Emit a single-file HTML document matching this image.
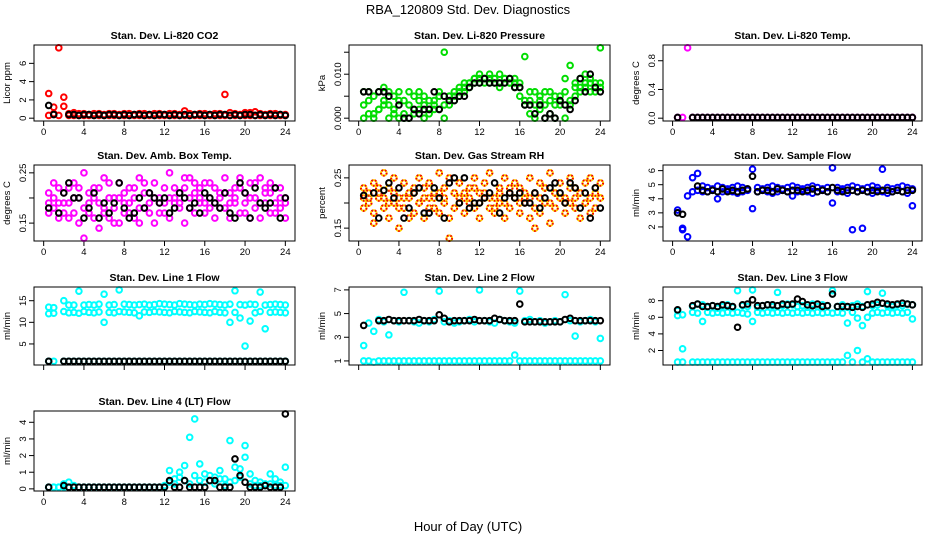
<!DOCTYPE html>
<html><head><meta charset="utf-8"><style>
body{margin:0;background:#fff;}
svg{display:block;font-family:"Liberation Sans",Arial,sans-serif;}
</style></head><body>
<svg id="chart" width="936" height="540" viewBox="0 0 936 540">
<text x="468" y="14" font-size="13" text-anchor="middle">RBA_120809  Std. Dev. Diagnostics</text>
<text x="468" y="531" font-size="13" text-anchor="middle">Hour of Day (UTC)</text>
</svg>
<script>
const hours=[0.5,1,1.5,2,2.5,3,3.5,4,4.5,5,5.5,6,6.5,7,7.5,8,8.5,9,9.5,10,10.5,11,11.5,12,12.5,13,13.5,14,14.5,15,15.5,16,16.5,17,17.5,18,18.5,19,19.5,20,20.5,21,21.5,22,22.5,23,23.5,24];
const xTicks=[0,4,8,12,16,20,24];
// CO2
const co2Red1=[2.7,0.5,7.7,2.3,0.5,0.6,0.5,0.5,0.4,0.5,0.5,0.4,0.5,0.5,0.4,0.5,0.5,0.4,0.5,0.5,0.4,0.5,0.5,0.4,0.5,0.5,0.4,0.8,0.5,0.4,0.5,0.5,0.4,0.5,0.5,2.6,0.6,0.5,0.4,0.6,0.6,0.7,0.5,0.4,0.5,0.5,0.4,0.4];
const co2Red2=[0.3,1.2,0.3,1.3,0.3,0.3,0.3,0.3,0.3,0.3,0.3,0.3,0.3,0.3,0.3,0.3,0.3,0.3,0.3,0.3,0.3,0.3,0.3,0.3,0.3,0.3,0.3,0.3,0.3,0.3,0.3,0.3,0.3,0.3,0.3,0.3,0.3,0.3,0.3,0.3,0.3,0.3,0.3,0.3,0.3,0.3,0.3,0.3];
const co2Black=[1.4,0.4,null,null,0.4,0.4,0.3,0.4,0.4,0.3,0.4,0.3,0.4,0.4,0.3,0.4,0.3,0.4,0.4,0.3,0.4,0.3,0.4,0.4,0.3,0.4,0.3,0.4,0.3,0.4,0.4,0.3,0.4,0.3,0.4,0.4,0.3,0.4,0.3,0.4,0.4,0.3,0.4,0.3,0.4,0.3,0.4,0.3];
// Pressure
const presG1=[0.006,0.006,0.001,0.006,0.007,0.006,0.005,0.006,0.004,0.006,0.005,0.006,0.003,0.004,0.002,0.006,0.015,0.005,0.006,0.007,0.008,0.008,0.009,0.010,0.009,0.010,0.009,0.010,0.009,0.009,0.008,0.007,0.014,0.006,0.006,0.005,0.006,0.006,0.005,0.005,0.009,0.012,0.008,0.009,0.010,0.009,0.008,0.016];
const presG2=[0,0.001,0,0.002,0.003,0,0.001,0,0,0,0.001,0.002,0,0.001,0.003,0.002,0,0.003,0.004,0.005,0.006,0.007,0.008,0.008,0.008,0.009,0.008,0.007,0.008,0.008,0.007,0.005,0.003,0.001,0,0.002,0,0.001,0,0.003,0,0.003,0.005,0.006,0.007,0.006,0.006,0.007];
const presG3=[0.003,0.004,0.005,0.002,0.004,0.003,0.002,0.004,0.001,0.003,0.002,0.004,0.005,0.002,0.004,0.005,0.003,0.005,0.005,0.006,0.007,0.008,0.009,0.009,0.009,0.008,0.009,0.008,0.009,0.008,0.009,0.008,0.004,0.004,0.003,0.004,0.003,0.004,0.003,0.004,0.006,0.004,0.007,0.007,0.008,0.008,0.007,0.008];
const presBlack=[0.006,0.006,null,0.006,0.006,0.005,null,0.003,0,0,0.002,0.001,0.002,0.002,0.006,0.002,0.005,0.004,0.004,0.005,0.005,0.007,0.008,0.008,0.009,0.008,0.008,0.008,0.008,0.009,0.007,0.007,0.003,0.003,0.001,0.003,0,0.001,0,0.004,0.003,0.002,0.004,0.009,0.006,0.010,0.007,0.006];
// Li-820 temp
const tempMag=[0.01,0.01,0.98,0.01,0.01,0.01,0.01,0.01,0.01,0.01,0.01,0.01,0.01,0.01,0.01,0.01,0.01,0.01,0.01,0.01,0.01,0.01,0.01,0.01,0.01,0.01,0.01,0.01,0.01,0.01,0.01,0.01,0.01,0.01,0.01,0.01,0.01,0.01,0.01,0.01,0.01,0.01,0.01,0.01,0.01,0.01,0.01,0.01];
const tempBlack=[0.01,null,null,0.01,0.01,0.01,0.01,0.01,0.01,0.01,0.01,0.01,0.01,0.01,0.01,0.01,0.01,0.01,0.01,0.01,0.01,0.01,0.01,0.01,0.01,0.01,0.01,0.01,0.01,0.01,0.01,0.01,0.01,0.01,0.01,0.01,0.01,0.01,0.01,0.01,0.01,0.01,0.01,0.01,0.01,0.01,0.01,0.01];
// Amb box temp
const ambM1=[0.21,0.18,0.22,0.19,0.16,0.23,0.20,0.25,0.17,0.22,0.19,0.24,0.20,0.18,0.23,0.21,0.19,0.22,0.24,0.18,0.21,0.23,0.19,0.22,0.25,0.20,0.18,0.22,0.24,0.21,0.19,0.23,0.20,0.22,0.18,0.24,0.21,0.19,0.22,0.17,0.23,0.20,0.24,0.19,0.21,0.22,0.18,0.20];
const ambM2=[0.17,0.20,0.16,0.21,0.19,0.17,0.15,0.18,0.21,0.16,0.14,0.18,0.16,0.20,0.15,0.17,0.22,0.16,0.18,0.21,0.17,0.15,0.20,0.17,0.16,0.19,0.21,0.15,0.18,0.17,0.22,0.17,0.18,0.16,0.21,0.18,0.16,0.20,0.17,0.21,0.16,0.18,0.16,0.22,0.17,0.19,0.20,0.16];
const ambM3=[0.19,0.23,0.19,0.17,0.22,0.20,0.22,0.12,0.19,0.20,0.22,0.17,0.23,0.15,0.20,0.19,0.17,0.20,0.15,0.23,0.19,0.20,0.17,0.19,0.20,0.22,0.19,0.24,0.20,0.23,0.20,0.19,0.23,0.19,0.20,0.21,0.19,0.22,0.24,0.19,0.20,0.23,0.19,0.21,0.23,0.17,0.22,0.19];
const ambBlack=[0.18,null,0.17,0.21,0.23,0.20,0.20,0.16,0.18,0.21,0.16,0.19,0.17,0.19,0.23,0.18,0.16,0.17,0.20,0.18,0.21,0.20,0.19,0.20,0.17,0.18,0.21,0.20,0.18,0.19,0.17,0.21,0.20,0.19,0.18,0.21,0.17,0.16,0.23,0.21,0.16,0.22,0.19,0.18,0.19,0.22,0.16,0.20];
// Gas stream RH
const rhO1=[0.23,0.21,0.24,0.22,0.26,0.23,0.25,0.21,0.24,0.22,0.23,0.25,0.21,0.24,0.22,0.26,0.23,0.25,0.22,0.24,0.21,0.23,0.25,0.22,0.24,0.26,0.21,0.23,0.25,0.22,0.24,0.23,0.21,0.25,0.22,0.24,0.23,0.26,0.22,0.24,0.21,0.25,0.23,0.22,0.24,0.25,0.22,0.24];
const rhO2=[0.19,0.20,0.18,0.21,0.19,0.17,0.20,0.15,0.19,0.21,0.18,0.20,0.17,0.19,0.21,0.18,0.20,0.17,0.19,0.21,0.18,0.20,0.19,0.17,0.21,0.19,0.18,0.20,0.17,0.19,0.21,0.18,0.20,0.17,0.19,0.18,0.20,0.16,0.19,0.21,0.18,0.20,0.19,0.17,0.20,0.18,0.19,0.21];
const rhO3=[0.21,0.22,0.16,0.23,0.21,0.20,0.22,0.19,0.21,0.17,0.22,0.20,0.23,0.21,0.19,0.22,0.21,0.13,0.22,0.20,0.22,0.21,0.23,0.20,0.22,0.21,0.19,0.22,0.20,0.23,0.21,0.20,0.22,0.21,0.15,0.21,0.23,0.20,0.22,0.21,0.20,0.23,0.21,0.22,0.20,0.21,0.23,0.21];
const rhBlack=[0.215,null,0.22,0.17,0.225,0.24,0.21,0.23,0.17,0.19,0.22,0.23,0.18,0.18,0.23,0.21,0.17,0.24,0.25,0.20,0.25,0.19,0.20,0.20,0.21,0.22,0.24,0.18,0.21,0.22,0.21,0.22,0.20,0.20,0.22,0.19,0.21,0.23,0.24,0.22,0.20,0.24,0.23,0.19,0.22,0.17,0.23,0.19];
// Sample flow
const sfB1=[3.0,1.8,1.3,5.5,5.8,4.9,4.8,4.7,4.9,4.8,4.7,4.8,4.9,4.8,4.7,6.1,4.8,4.7,4.8,4.9,4.8,4.7,4.8,4.9,4.8,4.7,4.8,4.9,4.8,4.7,4.8,6.2,4.8,4.7,4.8,4.9,4.8,4.7,4.8,4.9,4.8,6.1,4.8,4.7,4.8,4.9,4.8,4.7];
const sfB2=[3.2,1.9,4.2,4.5,4.6,4.5,4.5,4.6,4.0,4.5,4.6,4.5,4.4,4.5,4.6,3.3,4.5,4.6,4.5,4.4,4.5,4.6,4.5,4.2,4.5,4.6,4.5,4.4,4.5,4.6,4.5,3.7,4.5,4.6,4.4,1.8,4.5,1.9,4.5,4.4,4.6,4.5,4.4,4.5,4.6,4.5,4.4,3.5];
const sfBlack=[3.0,2.9,null,null,4.9,4.6,4.5,4.6,4.5,4.7,4.5,4.6,4.5,4.6,4.7,5.6,4.5,4.6,4.6,4.5,4.7,4.6,4.5,4.6,4.6,4.5,4.6,4.7,4.5,4.6,4.5,4.8,4.6,4.5,4.6,4.6,4.5,4.6,4.5,4.6,4.5,4.6,4.6,4.5,4.6,4.5,4.6,4.6];
// Line 1 flow
const l1C1=[13.5,13.4,null,15.0,14.0,14.0,17.2,14.0,14.1,14.0,14.2,16.5,14.0,14.1,17.5,14.2,14.1,14.0,14.1,14.2,14.0,14.1,14.3,14.2,14.1,14.0,14.3,14.2,14.1,14.0,14.2,14.1,14.3,14.2,14.1,14.0,14.2,17.3,14.1,14.0,14.2,14.1,17.0,14.0,14.1,14.2,14.1,14.0];
const l1C2=[12.0,12.1,null,12.5,12.2,12.3,12.1,12.5,12.3,12.2,12.4,10.0,12.3,12.2,12.5,12.4,12.3,12.2,11.5,12.4,12.3,12.5,12.4,12.3,12.2,12.5,12.4,12.3,12.2,12.5,12.4,12.3,12.2,12.5,12.3,12.2,10.0,12.3,11.0,4.5,10.3,12.2,12.5,8.5,12.3,12.4,12.3,12.2];
const l1C3=[1.0,1.0,null,1.0,1.0,1.0,1.0,1.0,1.0,1.0,1.0,1.0,1.0,1.0,1.0,1.0,1.0,1.0,1.0,1.0,1.0,1.0,1.0,1.0,1.0,1.0,1.0,1.0,1.0,1.0,1.0,1.0,1.0,1.0,1.0,1.0,1.0,1.0,1.0,1.0,1.0,1.0,1.0,1.0,1.0,1.0,1.0,1.0];
const l1Black=[1.0,null,null,1.0,1.0,1.0,1.0,1.0,1.0,1.0,1.0,1.0,1.0,1.0,1.0,1.0,1.0,1.0,1.0,1.0,1.0,1.0,1.0,1.0,1.0,1.0,1.0,1.0,1.0,1.0,1.0,1.0,1.0,1.0,1.0,1.0,1.0,1.0,1.0,1.0,1.0,1.0,1.0,1.0,1.0,1.0,1.0,1.0];
// Line 2 flow
const l2C1=[2.3,4.2,3.5,4.5,4.3,3.2,4.4,4.3,6.8,4.4,4.3,4.2,4.4,4.3,4.5,6.9,4.3,4.4,4.2,4.3,4.4,4.5,4.3,7.0,4.4,4.3,4.2,4.5,4.4,4.3,4.2,6.9,4.4,4.5,4.3,4.4,4.2,4.3,4.4,4.3,6.6,4.4,3.1,4.3,4.4,4.5,4.3,2.9];
const l2C2=[1.0,1.0,0.9,1.0,1.0,1.0,1.0,1.0,1.0,1.0,1.0,1.0,1.0,1.0,1.0,1.0,1.0,1.0,1.0,1.0,1.0,1.0,1.0,1.0,1.0,1.0,1.0,1.0,1.0,1.0,1.5,1.0,1.0,1.0,1.0,1.0,1.0,1.0,1.0,1.0,1.0,1.0,1.0,1.0,1.0,1.0,1.0,1.0];
const l2Black=[4.0,null,null,4.4,4.4,4.5,4.4,4.4,4.4,4.4,4.4,4.5,4.4,4.4,4.4,4.9,4.6,4.3,4.4,4.4,4.4,4.4,4.5,4.4,4.4,4.4,4.6,4.5,4.4,4.4,4.4,5.8,4.3,4.3,4.3,4.3,4.3,4.3,4.3,4.3,4.5,4.6,4.4,4.4,4.4,4.4,4.4,4.4];
// Line 3 flow
const l3C1=[6.8,6.3,null,7.3,7.6,7.5,7.2,7.4,7.1,7.3,7.5,7.2,9.2,7.4,7.3,9.3,7.2,7.4,7.5,7.3,9.0,7.4,7.6,7.5,7.3,7.4,7.2,7.6,7.3,7.5,7.4,9.2,7.3,7.5,7.2,7.4,7.6,7.3,9.1,7.4,7.5,8.9,7.4,7.3,7.5,7.4,7.6,7.5];
const l3C2=[6.2,2.2,null,6.6,6.5,5.5,6.6,6.5,6.6,6.5,6.6,6.5,6.6,6.5,6.4,5.5,6.6,6.5,6.6,6.5,6.6,6.5,6.6,6.5,6.6,6.5,6.6,6.5,6.6,6.5,6.6,6.5,6.6,6.5,5.3,6.6,5.9,5.0,6.0,6.5,6.6,6.5,6.6,6.5,6.6,6.5,6.6,5.8];
const l3C3=[0.6,0.6,null,0.6,0.6,0.6,0.6,0.6,0.6,0.6,0.6,0.6,0.6,0.6,0.6,0.6,0.6,0.6,0.6,0.6,0.6,0.6,0.6,0.6,0.6,0.6,0.6,0.6,0.6,0.6,0.6,0.6,0.6,0.6,1.4,0.6,2.0,0.6,1.0,0.6,0.6,0.6,0.6,0.6,0.6,0.6,0.6,0.6];
const l3Black=[6.9,null,null,7.4,7.6,7.3,7.3,7.4,7.3,7.5,7.4,7.3,4.8,7.5,7.6,8.1,7.4,7.4,7.5,7.5,7.4,7.6,7.5,7.6,8.2,7.9,7.5,7.4,7.6,7.3,7.4,8.8,7.3,7.3,7.3,7.2,7.3,7.2,7.5,7.6,7.8,7.7,7.6,7.5,7.6,7.7,7.6,7.5];
// Line 4 flow
const l4C1=[0.1,0.1,0.1,0.3,0.4,0.2,0.1,0.1,0.1,0.1,0.1,0.1,0.1,0.1,0.1,0.1,0.1,0.1,0.1,0.1,0.1,0.1,0.1,0.2,1.1,0.6,1.0,1.4,3.1,4.2,1.5,0.9,0.8,0.7,1.1,0.6,2.9,1.3,1.2,2.6,0.9,0.5,0.4,0.3,0.9,0.6,0.4,1.3];
const l4C2=[0.1,0.1,0.1,0.1,0.1,0.1,0.1,0.1,0.1,0.1,0.1,0.1,0.1,0.1,0.1,0.1,0.1,0.1,0.1,0.1,0.1,0.1,0.1,0.1,0.4,0.3,0.7,0.5,0.3,0.8,0.5,0.4,0.5,0.3,0.6,0.2,0.4,0.5,0.7,1.9,0.3,0.2,0.2,0.2,0.3,0.2,0.2,0.2];
const l4Black=[0.1,null,null,0.2,0.1,0.1,0.1,0.1,0.1,0.1,0.1,0.1,0.1,0.1,0.1,0.1,0.1,0.1,0.1,0.1,0.1,0.1,0.1,0.1,0.5,0.1,0.1,0.5,0.1,0.1,0.1,0.1,0.5,0.5,0.1,0.1,0.1,1.8,0.8,0.4,0.1,0.1,0.1,0.2,0.1,0.1,0.1,4.5];

const NS='http://www.w3.org/2000/svg';
const svg=document.getElementById('chart');
function mk(tag,attrs,parent){const e=document.createElementNS(NS,tag);for(const k in attrs)e.setAttribute(k,attrs[k]);(parent||svg).appendChild(e);return e;}
const cols=[[34,295],[349,610],[663,922]];
const rows=[[45,121],[165,241],[287,365],[411,491]];
const panels=[
 {t:'Stan. Dev. Li-820 CO2',c:0,r:0,lo:0,hi:7.7,yl:'Licor ppm',yt:[[0,'0'],[2,'2'],[4,'4'],[6,'6']],s:[[co2Red2,'#f00'],[co2Red1,'#f00'],[co2Black,'#000']],xl:true,name:'co2'},
 {t:'Stan. Dev. Li-820 Pressure',c:1,r:0,lo:0,hi:0.016,yl:'kPa',yt:[[0,'0.000'],[0.005,''],[0.01,'0.010'],[0.015,'']],s:[[presG2,'#0d0'],[presG3,'#0d0'],[presG1,'#0d0'],[presBlack,'#000']],xl:true,name:'pressure'},
 {t:'Stan. Dev. Li-820 Temp.',c:2,r:0,lo:0,hi:0.98,yl:'degrees C',yt:[[0,'0.0'],[0.4,'0.4'],[0.8,'0.8']],s:[[tempMag,'#f0f'],[tempBlack,'#000']],xl:true,name:'li820-temp'},
 {t:'Stan. Dev. Amb. Box Temp.',c:0,r:1,lo:0.12,hi:0.26,yl:'degrees C',yt:[[0.15,'0.15'],[0.2,''],[0.25,'0.25']],s:[[ambM1,'#f0f'],[ambM2,'#f0f'],[ambM3,'#f0f'],[ambBlack,'#000']],xl:true,name:'amb-box-temp'},
 {t:'Stan. Dev. Gas Stream RH',c:1,r:1,lo:0.13,hi:0.27,yl:'percent',yt:[[0.15,'0.15'],[0.2,''],[0.25,'0.25']],s:[[rhO1,'#fc0'],[rhO2,'#fc0'],[rhO3,'#fc0'],[rhBlack,'#000']],xl:true,rh:true,name:'gas-stream-rh'},
 {t:'Stan. Dev. Sample Flow',c:2,r:1,lo:1.2,hi:6.2,yl:'ml/min',yt:[[2,'2'],[3,'3'],[4,'4'],[5,'5'],[6,'6']],s:[[sfB2,'#00f'],[sfB1,'#00f'],[sfBlack,'#000']],xl:true,name:'sample-flow'},
 {t:'Stan. Dev. Line 1 Flow',c:0,r:2,lo:0.8,hi:17.5,yl:'ml/min',yt:[[5,'5'],[10,'10'],[15,'15']],s:[[l1C3,'#0ff'],[l1C2,'#0ff'],[l1C1,'#0ff'],[l1Black,'#000']],xl:false,name:'line1-flow'},
 {t:'Stan. Dev. Line 2 Flow',c:1,r:2,lo:0.9,hi:7.0,yl:'ml/min',yt:[[1,'1'],[3,'3'],[5,'5'],[7,'7']],s:[[l2C2,'#0ff'],[l2C1,'#0ff'],[l2Black,'#000']],xl:false,name:'line2-flow'},
 {t:'Stan. Dev. Line 3 Flow',c:2,r:2,lo:0.6,hi:9.3,yl:'ml/min',yt:[[2,'2'],[4,'4'],[6,'6'],[8,'8']],s:[[l3C3,'#0ff'],[l3C2,'#0ff'],[l3C1,'#0ff'],[l3Black,'#000']],xl:false,name:'line3-flow'},
 {t:'Stan. Dev. Line 4 (LT) Flow',c:0,r:3,lo:0.05,hi:4.5,yl:'ml/min',yt:[[0,'0'],[1,'1'],[2,'2'],[3,'3'],[4,'4']],s:[[l4C1,'#0ff'],[l4C2,'#0ff'],[l4Black,'#000']],xl:true,name:'line4-flow'}
];
panels.forEach(p=>{
 const [x0,x1]=cols[p.c],[y0,y1]=rows[p.r];
 const g=mk('g',{});
 
 
 const xd=24*0.04,yd=(p.hi-p.lo)*0.04;
 const xs=v=>x0+(v+xd)/(24+2*xd)*(x1-x0);
 const ys=v=>y1-(v-p.lo+yd)/(p.hi-p.lo+2*yd)*(y1-y0);
 const t=mk('text',{x:(x0+x1)/2,y:y0-6,'font-size':10.5,'font-weight':'bold','text-anchor':'middle'},g);t.textContent=p.t;
 
 
 const ax=mk('g',{stroke:'#000','stroke-width':1},g);
 xTicks.forEach(v=>{const x=xs(v);mk('line',{x1:x,x2:x,y1:y1,y2:y1+5},ax);
  if(p.xl){const tx=mk('text',{x:x,y:y1+14,'font-size':9.5,'text-anchor':'middle',stroke:'none'},g);tx.textContent=v;
  
  }});
 p.yt.forEach(([v,l])=>{const y=ys(v);mk('line',{x1:x0-5,x2:x0,y1:y,y2:y},ax);
  if(l){const ty=mk('text',{x:x0-8,y:y,'font-size':9.5,'text-anchor':'middle',transform:`rotate(-90 ${x0-8} ${y})`},g);ty.textContent=l;
  
  }});
 const yl=mk('text',{x:x0-24,y:(y0+y1)/2,'font-size':9.5,'text-anchor':'middle',transform:`rotate(-90 ${x0-24} ${(y0+y1)/2})`},g);yl.textContent=p.yl;
 
 
 p.s.forEach(([vals,col])=>{
  vals.forEach((v,i)=>{if(v===null)return;
   const c=mk('circle',{cx:xs(hours[i]),cy:ys(v),r:2.8,fill:'none',stroke:col,'stroke-width':2},g);
   
   
   if(p.rh&&col!=='#000'){const c2=mk('circle',{cx:xs(hours[i]),cy:ys(v),r:2.8,fill:'none',stroke:'#e00','stroke-width':2,'stroke-dasharray':'1.5 2'},g);
    
    }
  });
 });
 mk('rect',{x:x0,y:y0,width:x1-x0,height:y1-y0,fill:'none',stroke:'#000','stroke-width':1},g);
});
</script>
</body></html>
